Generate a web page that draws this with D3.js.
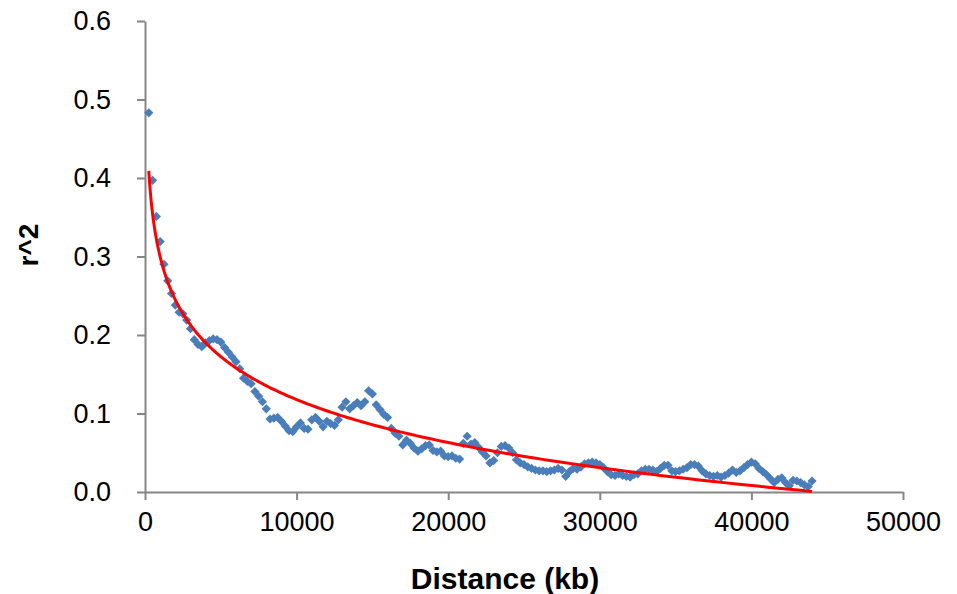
<!DOCTYPE html>
<html><head><meta charset="utf-8">
<script src="https://cdn.jsdelivr.net/npm/d3@7"></script>
<style>body{margin:0;background:#fff}svg{display:block}</style>
</head><body>
<svg id="c" width="957" height="594"></svg>
<script>
const distances = [
  250,500,750,1000,1250,1500,1750,2000,2250,2500,2750,3000,3250,3500,3750,4000,4250,4500,4750,5000,
  5250,5500,5750,6000,6250,6500,6750,7000,7250,7500,7750,8000,8250,8500,8750,9000,9250,9500,9750,10000,
  10250,10500,10750,11000,11250,11500,11750,12000,12250,12500,12750,13000,13250,13500,13750,14000,14250,14500,14750,15000,
  15250,15500,15750,16000,16250,16500,16750,17000,17250,17500,17750,18000,18250,18500,18750,19000,19250,19500,19750,20000,
  20250,20500,20750,21000,21250,21500,21750,22000,22250,22500,22750,23000,23250,23500,23750,24000,24250,24500,24750,25000,
  25250,25500,25750,26000,26250,26500,26750,27000,27250,27500,27750,28000,28250,28500,28750,29000,29250,29500,29750,30000,
  30250,30500,30750,31000,31250,31500,31750,32000,32250,32500,32750,33000,33250,33500,33750,34000,34250,34500,34750,35000,
  35250,35500,35750,36000,36250,36500,36750,37000,37250,37500,37750,38000,38250,38500,38750,39000,39250,39500,39750,40000,
  40250,40500,40750,41000,41250,41500,41750,42000,42250,42500,42750,43000,43250,43500,43750,44000
];
const r2 = [
  0.483,0.397,0.351,0.319,0.290,0.269,0.253,0.238,0.229,0.227,0.219,0.208,0.194,0.188,0.185,0.190,0.193,0.195,0.194,0.191,
  0.184,0.178,0.172,0.166,0.157,0.145,0.141,0.138,0.128,0.122,0.115,0.106,0.093,0.094,0.095,0.090,0.084,0.078,0.077,0.083,
  0.088,0.081,0.080,0.092,0.095,0.090,0.083,0.090,0.087,0.085,0.092,0.108,0.115,0.106,0.110,0.114,0.110,0.115,0.129,0.125,
  0.111,0.105,0.099,0.095,0.081,0.075,0.071,0.060,0.066,0.062,0.056,0.052,0.055,0.059,0.060,0.053,0.051,0.052,0.046,0.045,
  0.046,0.043,0.042,0.062,0.071,0.061,0.063,0.057,0.051,0.046,0.037,0.040,0.050,0.058,0.059,0.056,0.050,0.041,0.037,0.035,
  0.032,0.030,0.028,0.027,0.027,0.026,0.027,0.028,0.030,0.028,0.020,0.026,0.030,0.029,0.032,0.036,0.037,0.038,0.037,0.035,
  0.031,0.026,0.022,0.021,0.023,0.021,0.020,0.019,0.022,0.023,0.027,0.029,0.029,0.028,0.026,0.030,0.034,0.034,0.027,0.026,
  0.027,0.029,0.031,0.035,0.035,0.033,0.027,0.023,0.021,0.020,0.021,0.019,0.021,0.024,0.028,0.025,0.027,0.031,0.035,0.038,
  0.036,0.030,0.026,0.022,0.017,0.012,0.016,0.018,0.012,0.008,0.015,0.014,0.012,0.009,0.007,0.014
];
const xTicks = [0,10000,20000,30000,40000,50000];
const yTicks = [0,0.1,0.2,0.3,0.4,0.5,0.6];
const xTitle = "Distance (kb)";
const yTitle = "r^2";

const FONT = "'Liberation Sans', Arial, Helvetica, sans-serif";
const AXIS_COLOR = "#868686";
const svg = d3.select("#c");
const x = d3.scaleLinear().domain([0, 50000]).range([145, 903]);
const y = d3.scaleLinear().domain([0, 0.6]).range([492, 21]);

const data = distances.map((d, i) => ({x: d, y: r2[i]}));

// axes
const gx = svg.append("g").attr("transform", "translate(0,492)")
  .call(d3.axisBottom(x).tickValues(xTicks).tickFormat(d3.format("d"))
    .tickSizeInner(8).tickSizeOuter(0).tickPadding(12));
const gy = svg.append("g").attr("transform", "translate(145,0)")
  .call(d3.axisLeft(y).tickValues(yTicks).tickFormat(d3.format(".1f"))
    .tickSizeInner(8).tickSizeOuter(0).tickPadding(26));
[gx, gy].forEach(g => {
  g.select(".domain").attr("stroke", AXIS_COLOR).attr("stroke-width", 2);
  g.selectAll(".tick line").attr("stroke", AXIS_COLOR).attr("stroke-width", 2);
  g.selectAll(".tick text").attr("fill", "#000").style("font-family", FONT).style("font-size", "27px");
});

// points (diamonds)
const diamond = "M0,-4.6L4.6,0L0,4.6L-4.6,0Z";
svg.append("g").selectAll("path").data(data).join("path")
  .attr("d", diamond)
  .attr("transform", d => `translate(${x(d.x)},${y(d.y)})`)
  .attr("fill", "#4A7EBB");

// logarithmic trendline fitted by least squares on the data
const lx = data.map(d => Math.log(d.x));
const mx = d3.mean(lx), my = d3.mean(data, d => d.y);
let sxy = 0, sxx = 0;
data.forEach((d, i) => { sxy += (lx[i] - mx) * (d.y - my); sxx += (lx[i] - mx) ** 2; });
const a = sxy / sxx, b = my - a * mx;
const x0 = distances[0], x1 = distances[distances.length - 1];
const samples = d3.range(0, 301).map(t => x0 * Math.pow(x1 / x0, t / 300));
svg.append("path")
  .datum(samples)
  .attr("fill", "none").attr("stroke", "#FF0000").attr("stroke-width", 3)
  .attr("d", d3.line().x(d => x(d)).y(d => y(a * Math.log(d) + b)));

// titles
svg.append("text").attr("x", 505).attr("y", 589).attr("text-anchor", "middle")
  .style("font-family", FONT).style("font-size", "30px").style("font-weight", "bold")
  .text(xTitle);
svg.append("text").attr("transform", "translate(38,245) rotate(-90)").attr("text-anchor", "middle")
  .style("font-family", FONT).style("font-size", "28px").style("font-weight", "bold")
  .text(yTitle);
</script>
</body></html>
